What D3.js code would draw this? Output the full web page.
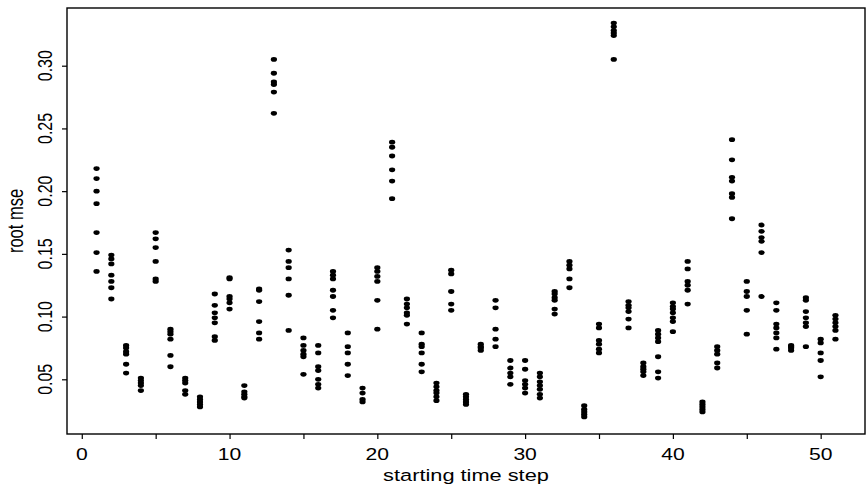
<!DOCTYPE html>
<html>
<head>
<meta charset="utf-8">
<script src="https://cdn.jsdelivr.net/npm/d3@7"></script>
<style>
  body { margin: 0; background: #fff; }
  svg { display: block; }
  text { font-family: "Liberation Sans", Arial, Helvetica, sans-serif; fill: #000; }
</style>
</head>
<body>
<svg width="866" height="487"></svg>
<script>
// root mse of each run, grouped by starting time step
var steps = [1, 2, 3, 4, 5, 6, 7, 8, 9, 10, 11, 12, 13, 14, 15, 16, 17, 18, 19, 20,
  21, 22, 23, 24, 25, 26, 27, 28, 29, 30, 31, 32, 33, 34, 35, 36, 37, 38, 39, 40,
  41, 42, 43, 44, 45, 46, 47, 48, 49, 50, 51];

var rmse = [
  [0.218, 0.210, 0.200, 0.190, 0.167, 0.151, 0.136],   // 1
  [0.149, 0.146, 0.142, 0.133, 0.128, 0.123, 0.114],
  [0.077, 0.075, 0.072, 0.070, 0.062, 0.055],
  [0.051, 0.049, 0.047, 0.045, 0.041],
  [0.167, 0.162, 0.155, 0.144, 0.130, 0.128],           // 5
  [0.090, 0.088, 0.086, 0.082, 0.069, 0.060],
  [0.051, 0.049, 0.047, 0.041, 0.038],
  [0.036, 0.034, 0.032, 0.030, 0.028],
  [0.118, 0.109, 0.103, 0.099, 0.095, 0.084, 0.081],
  [0.131, 0.130, 0.116, 0.114, 0.111, 0.106],           // 10
  [0.045, 0.040, 0.038, 0.036, 0.035],
  [0.122, 0.121, 0.112, 0.096, 0.087, 0.082],
  [0.305, 0.294, 0.287, 0.285, 0.279, 0.262],
  [0.153, 0.144, 0.139, 0.130, 0.117, 0.089],
  [0.083, 0.077, 0.073, 0.070, 0.068, 0.054],           // 15
  [0.077, 0.071, 0.060, 0.057, 0.050, 0.046, 0.043],
  [0.136, 0.133, 0.130, 0.121, 0.116, 0.105, 0.099],
  [0.087, 0.076, 0.071, 0.062, 0.053],
  [0.043, 0.039, 0.034, 0.032],
  [0.139, 0.136, 0.132, 0.128, 0.113, 0.090],           // 20
  [0.239, 0.235, 0.228, 0.217, 0.208, 0.194],
  [0.114, 0.110, 0.107, 0.103, 0.101, 0.094],
  [0.087, 0.078, 0.076, 0.071, 0.062, 0.056],
  [0.047, 0.044, 0.041, 0.039, 0.036, 0.033],
  [0.137, 0.134, 0.120, 0.110, 0.105],                  // 25
  [0.038, 0.036, 0.034, 0.032, 0.030],
  [0.078, 0.076, 0.075, 0.073],
  [0.113, 0.107, 0.090, 0.082, 0.076],
  [0.065, 0.059, 0.055, 0.052, 0.046],
  [0.065, 0.058, 0.049, 0.046, 0.043, 0.039],           // 30
  [0.055, 0.052, 0.048, 0.045, 0.042, 0.038, 0.035],
  [0.120, 0.118, 0.115, 0.113, 0.106, 0.102],
  [0.144, 0.141, 0.138, 0.130, 0.123],
  [0.029, 0.026, 0.024, 0.022, 0.020],
  [0.094, 0.091, 0.081, 0.078, 0.074, 0.071],           // 35
  [0.334, 0.331, 0.328, 0.326, 0.324, 0.305],
  [0.112, 0.109, 0.107, 0.104, 0.098, 0.091],
  [0.063, 0.060, 0.058, 0.056, 0.053],
  [0.089, 0.086, 0.083, 0.080, 0.068, 0.056, 0.051],
  [0.111, 0.108, 0.106, 0.103, 0.099, 0.096, 0.088],    // 40
  [0.144, 0.138, 0.128, 0.125, 0.121, 0.110],
  [0.032, 0.030, 0.028, 0.026, 0.024],
  [0.076, 0.073, 0.070, 0.063, 0.059],
  [0.241, 0.225, 0.211, 0.208, 0.198, 0.195, 0.178],
  [0.128, 0.120, 0.116, 0.105, 0.086],                  // 45
  [0.173, 0.168, 0.163, 0.160, 0.151, 0.116],
  [0.111, 0.105, 0.094, 0.091, 0.087, 0.083, 0.074],
  [0.077, 0.076, 0.075, 0.073],
  [0.115, 0.113, 0.104, 0.099, 0.095, 0.092, 0.076],
  [0.082, 0.079, 0.071, 0.065, 0.052],                  // 50
  [0.101, 0.098, 0.095, 0.092, 0.089, 0.082]
];

var xTicks = [0, 5, 10, 15, 20, 25, 30, 35, 40, 45, 50];
var xLabels = [0, 10, 20, 30, 40, 50];
var yTicks = [0.05, 0.10, 0.15, 0.20, 0.25, 0.30];
var xTitle = 'starting time step';
var yTitle = 'root mse';

var svg = d3.select('svg');

// plot box (the picture is stretched sideways, so text gets scaled too)
var boxLeft = 67, boxRight = 865, boxTop = 8, boxBottom = 434;
var stretch = 1.32;

var x = d3.scaleLinear().domain([-1, 53]).range([boxLeft, boxRight]);
var y = d3.scaleLinear().domain([0.0064, 0.346]).range([boxBottom, boxTop]);

// flatten into points
var points = [];
steps.forEach(function(s, i) {
  rmse[i].forEach(function(v) { points.push({ step: s, value: v }); });
});

svg.selectAll('ellipse')
  .data(points)
  .enter()
  .append('ellipse')
    .attr('cx', function(d) { return x(d.step); })
    .attr('cy', function(d) { return y(d.value); })
    .attr('rx', 3.1)
    .attr('ry', 2.4)
    .style('fill', '#000');

// box
svg.append('rect')
  .attr('x', boxLeft).attr('y', boxTop)
  .attr('width', boxRight - boxLeft).attr('height', boxBottom - boxTop)
  .style('fill', 'none')
  .style('stroke', '#000')
  .style('stroke-width', 1.4);

// x axis
var xAxis = d3.axisBottom(x)
  .tickValues(xTicks)
  .tickSize(5)
  .tickFormat('');
var gx = svg.append('g')
  .attr('transform', 'translate(0,' + boxBottom + ')')
  .call(xAxis);
gx.select('.domain').remove();
gx.selectAll('line').style('stroke', '#000').style('stroke-width', 1.2);

svg.selectAll('.xlab')
  .data(xLabels)
  .enter()
  .append('text')
    .attr('class', 'xlab')
    .attr('transform', function(d) { return 'translate(' + x(d) + ',460) scale(' + stretch + ',1)'; })
    .attr('text-anchor', 'middle')
    .style('font-size', '16px')
    .text(function(d) { return d; });

// y axis
var yAxis = d3.axisLeft(y)
  .tickValues(yTicks)
  .tickSize(5)
  .tickFormat('');
var gy = svg.append('g')
  .attr('transform', 'translate(' + boxLeft + ',0)')
  .call(yAxis);
gy.select('.domain').remove();
gy.selectAll('line').style('stroke', '#000').style('stroke-width', 1.2);

svg.selectAll('.ylab')
  .data(yTicks)
  .enter()
  .append('text')
    .attr('class', 'ylab')
    .attr('transform', function(d) { return 'translate(52,' + y(d) + ') scale(' + stretch + ',1) rotate(-90)'; })
    .attr('text-anchor', 'middle')
    .style('font-size', '16px')
    .text(function(d) { return d3.format('.2f')(d); });

// titles
svg.append('text')
  .attr('transform', 'translate(' + (boxLeft + boxRight) / 2 + ',481) scale(' + stretch + ',1)')
  .attr('text-anchor', 'middle')
  .style('font-size', '16.5px')
  .text(xTitle);

svg.append('text')
  .attr('transform', 'translate(23,' + (boxTop + boxBottom) / 2 + ') scale(' + stretch + ',1) rotate(-90)')
  .attr('text-anchor', 'middle')
  .style('font-size', '16.5px')
  .text(yTitle);
</script>
</body>
</html>
